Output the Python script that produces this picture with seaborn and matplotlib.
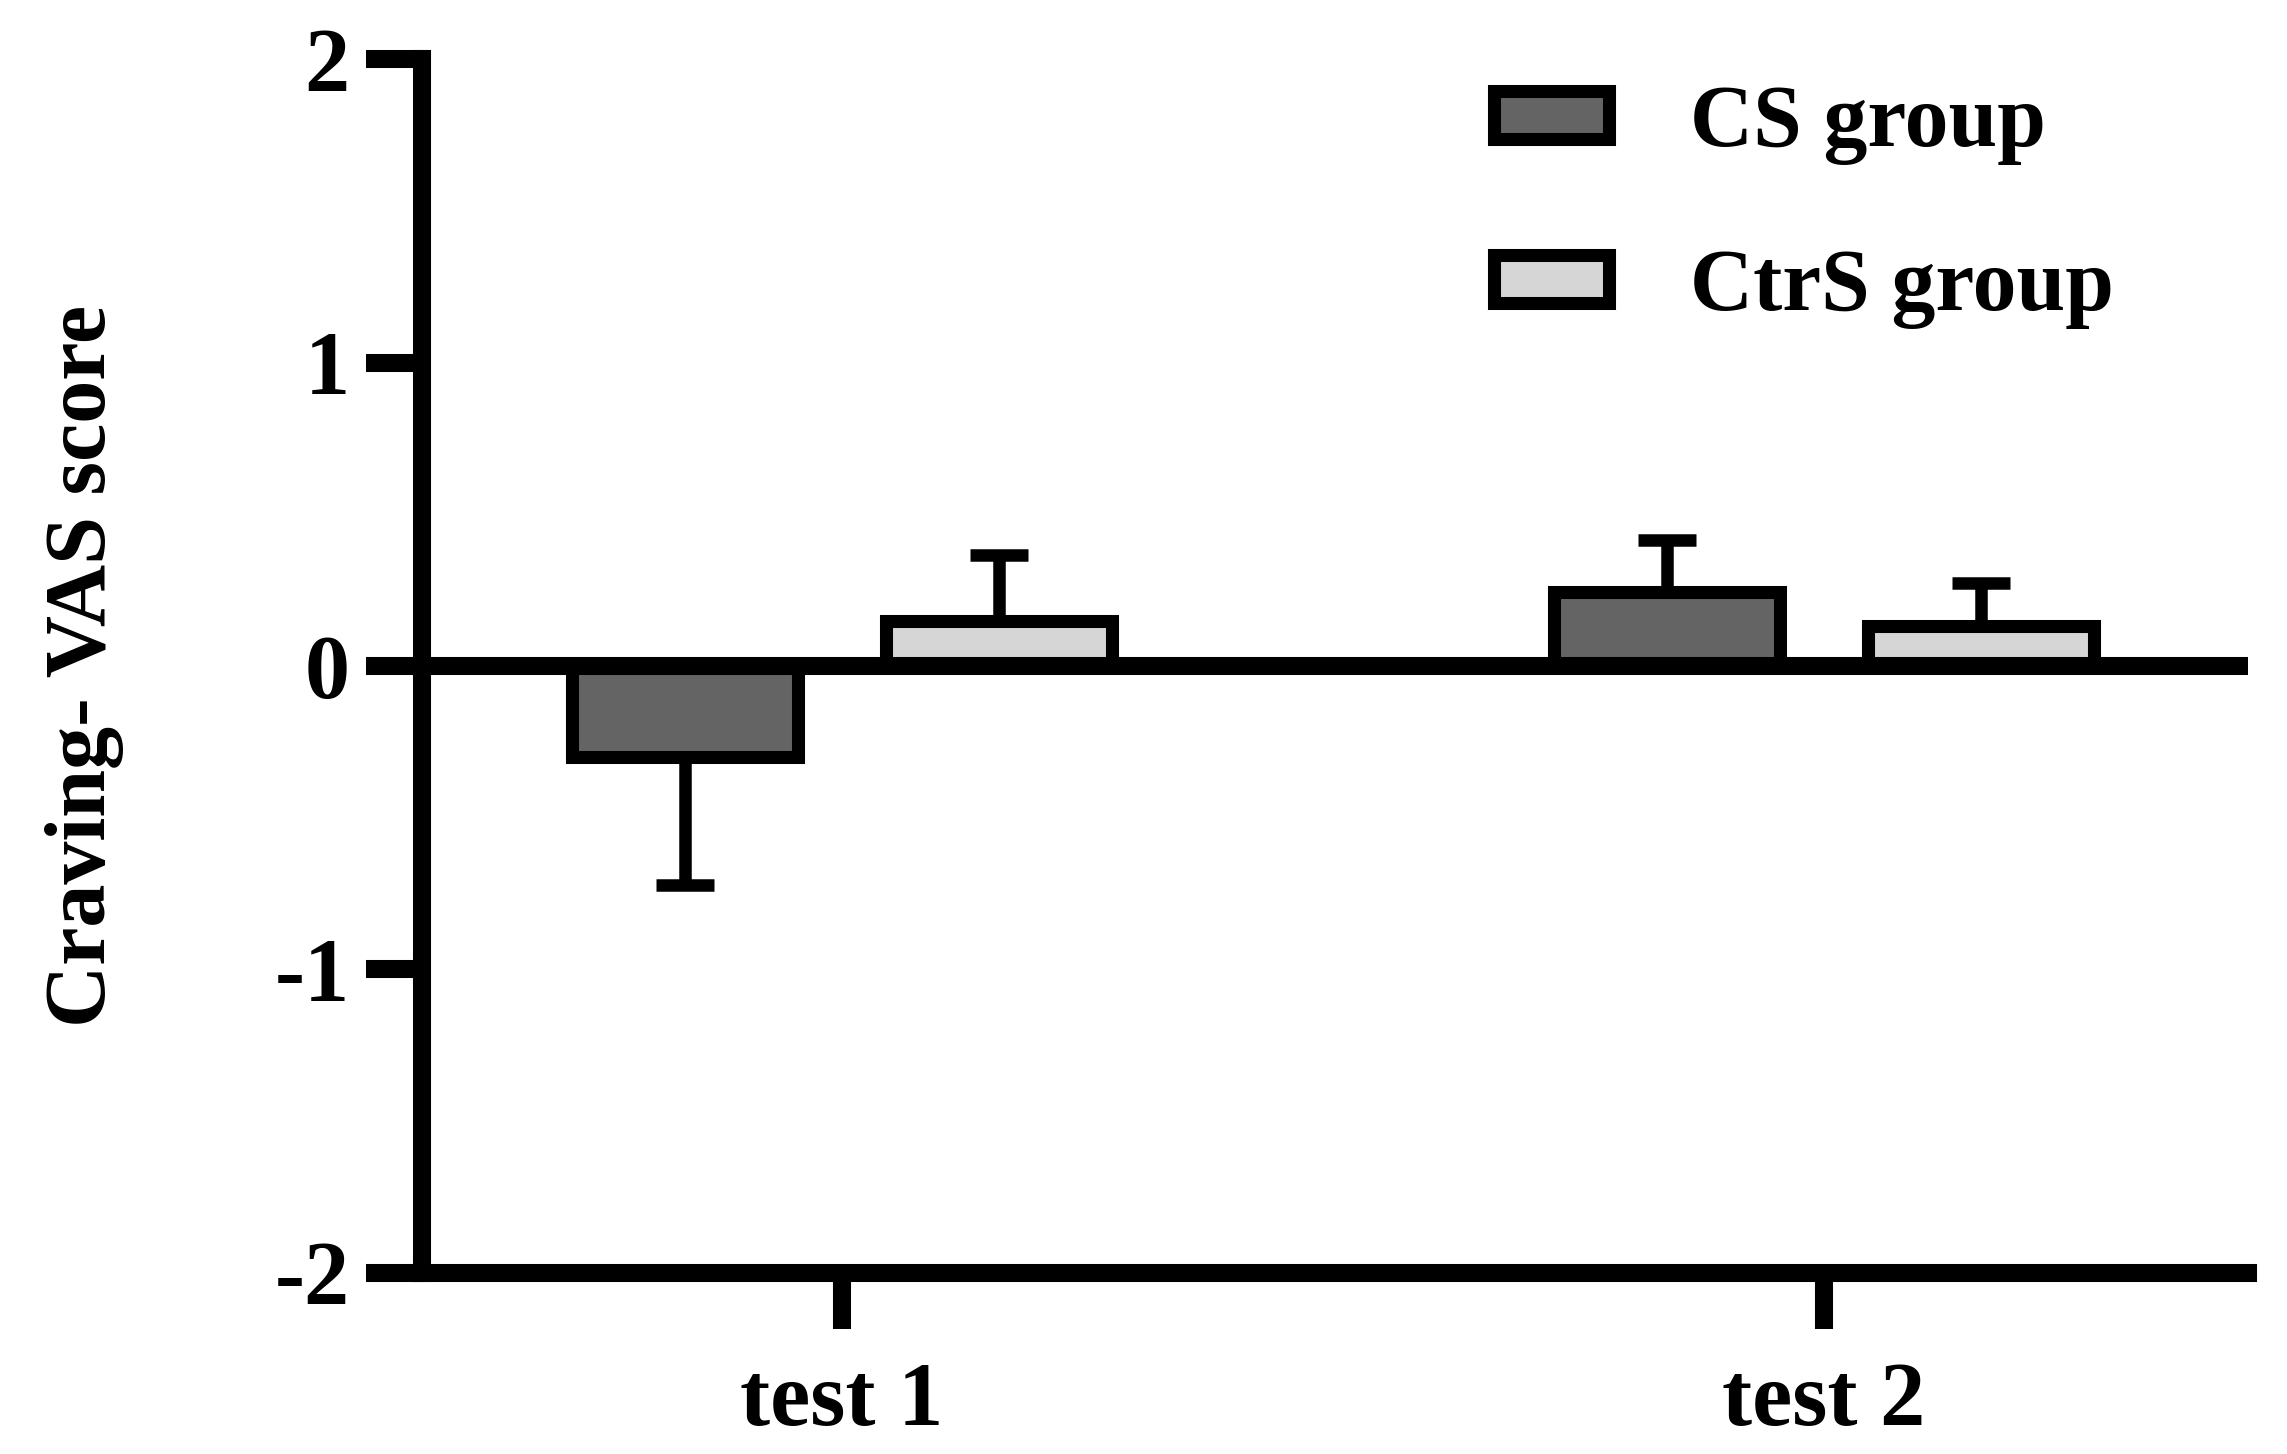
import matplotlib
matplotlib.use("Agg")
import matplotlib.pyplot as plt
import matplotlib.patches as mpatches
import seaborn as sns
import pandas as pd
import numpy as np

# values (mean, one-sided SEM)
tests = ["test 1", "test 2"]
groups = ["CS group", "CtrS group"]
cs_mean = [-0.30, 0.245]
ctrs_mean = [0.148, 0.132]
cs_err = [0.42, 0.17]
ctrs_err = [0.218, 0.142]
yticks = [-2, -1, 0, 1, 2]

colors = {"CS group": "#646464", "CtrS group": "#d6d6d6"}

df = pd.DataFrame({
    "test": tests + tests,
    "group": [groups[0]] * 2 + [groups[1]] * 2,
    "score": cs_mean + ctrs_mean,
})
errs = {"CS group": cs_err, "CtrS group": ctrs_err}
means = {"CS group": cs_mean, "CtrS group": ctrs_mean}

sns.set_style("ticks")
plt.rcParams["font.family"] = ["Liberation Serif", "DejaVu Serif"]
plt.rcParams["font.weight"] = "bold"
plt.rcParams["axes.unicode_minus"] = False
plt.rcParams["text.color"] = "black"
plt.rcParams["axes.labelcolor"] = "black"
plt.rcParams["xtick.color"] = "black"
plt.rcParams["ytick.color"] = "black"

fig = plt.figure(figsize=(22.87, 14.54), dpi=100)
ax = fig.add_axes([0.1845, 0.1245, 0.9830 - 0.1845, 0.9594 - 0.1245])

edge_lw = 9.4
ax = sns.barplot(
    data=df, x="test", y="score", hue="group",
    order=tests, hue_order=groups,
    palette=colors, width=0.64, gap=0.28,
    errorbar=None, edgecolor="black", linewidth=edge_lw,
    legend=False, ax=ax, zorder=2,
)

# one-sided error bars, drawn under the bars
for grp, cont in zip(groups, ax.containers):
    for bar, m, e in zip(cont, means[grp], errs[grp]):
        xc = bar.get_x() + bar.get_width() / 2
        if m >= 0:
            yerr = [[0], [e]]
        else:
            yerr = [[e], [0]]
        ax.errorbar([xc], [m], yerr=yerr, fmt="none", ecolor="black",
                    elinewidth=9, capsize=21, capthick=9, zorder=1)

ax.axhline(0, color="black", lw=13, zorder=3)

ax.set_ylim(-2, 2)
ax.set_xlim(-0.4277, 1.4318)
ax.set_yticks(yticks)
ax.set_yticklabels([str(t) for t in yticks])
ax.set_xticks([0, 1])
ax.set_xticklabels(tests)

for s in ["top", "right"]:
    ax.spines[s].set_visible(False)
for s in ["left", "bottom"]:
    ax.spines[s].set_linewidth(13)
    ax.spines[s].set_color("black")

ax.tick_params(axis="both", width=13, length=40, direction="out",
               color="black", labelcolor="black")
ax.tick_params(axis="y", labelsize=65, pad=12)
ax.tick_params(axis="x", labelsize=65, pad=24)
for lab in ax.get_xticklabels() + ax.get_yticklabels():
    lab.set_fontweight("bold")

ax.set_xlabel("")
ax.set_ylabel("Craving- VAS score", fontsize=62, fontweight="bold", color="black")
ax.yaxis.set_label_coords(-0.163, 0.5)

handles = [mpatches.Patch(facecolor=colors[g], edgecolor="black", linewidth=edge_lw, label=g)
           for g in groups]
leg = fig.legend(
    handles=handles, loc="center left", bbox_to_anchor=(0.6533, 0.858),
    bbox_transform=fig.transFigure, frameon=False,
    handlelength=1.31, handleheight=0.47, handletextpad=0.93,
    labelspacing=0.95, borderpad=0, borderaxespad=0,
    prop={"weight": "bold", "size": 63},
)
for t in leg.get_texts():
    t.set_color("black")

fig.savefig("out.png", dpi=100)
